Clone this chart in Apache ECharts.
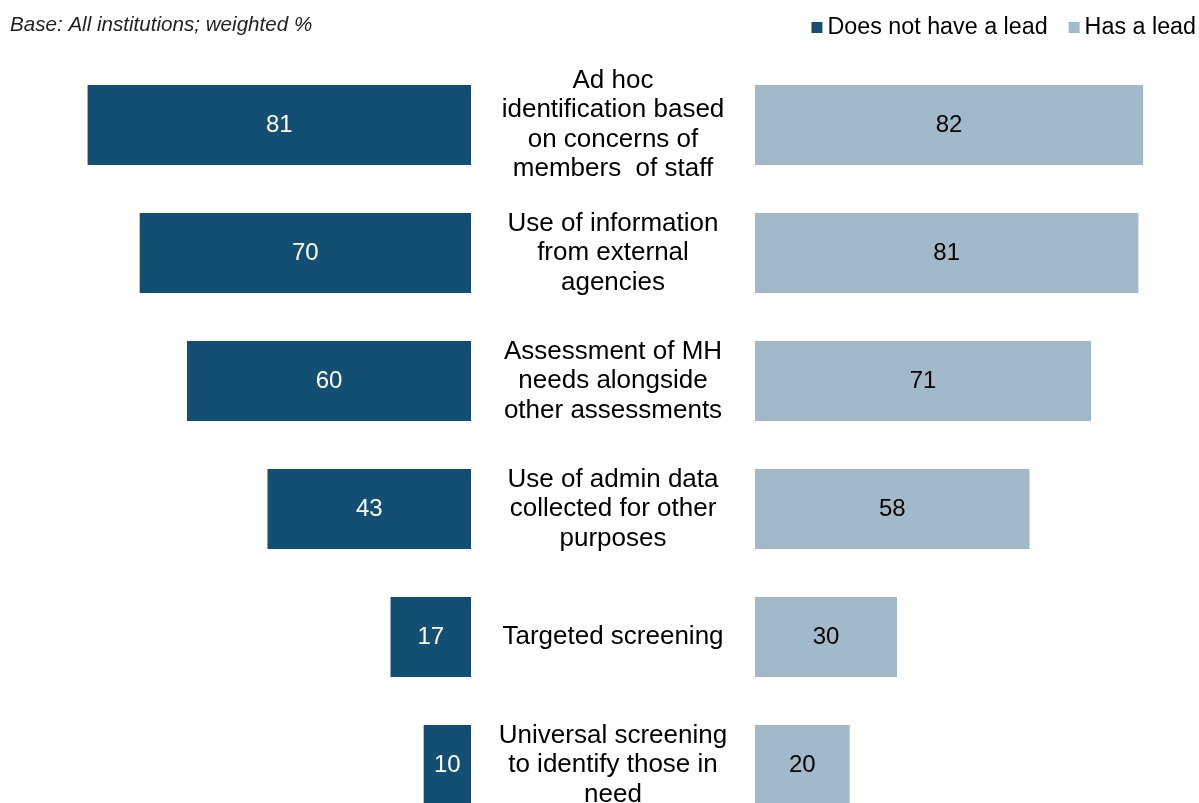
<!DOCTYPE html>
<html>
<head>
<meta charset="utf-8">
<title>MH identification by lead</title>
<script src="https://cdn.jsdelivr.net/npm/echarts@6/dist/echarts.min.js"></script>
<style>
	html, body { margin:0; padding:0; background:#fff; overflow:hidden; }
	#chart { width:1199px; height:840px; }
</style>
</head>
<body>
<div id="chart"></div>
<script>
//分类（中间的文字）
var categories = [
	"Ad hoc\nidentification based\non concerns of\nmembers  of staff",
	"Use of information\nfrom external\nagencies",
	"Assessment of MH\nneeds alongside\nother assessments",
	"Use of admin data\ncollected for other\npurposes",
	"Targeted screening",
	"Universal screening\nto identify those in\nneed"
];
//左边：没有负责人
var noLead = [81, 70, 60, 43, 17, 10];
//右边：有负责人
var hasLead = [82, 81, 71, 58, 30, 20];

var seriesNames = ["Does not have a lead", "Has a lead"];
var colorDark = "#124f73";
var colorLight = "#a2b9c9";
var fontName = "Liberation Sans, Arial, sans-serif";

function loadChart()
{
	// 画布比窗口高一点，最后一行被窗口底边裁掉
	var myChart = echarts.init(document.getElementById('chart'));

	var option = {
		backgroundColor: "#fff",
		animation: false,
		title: {
			text: "Base: All institutions; weighted %",
			left: 5,
			top: 10,
			textStyle: {
				fontFamily: fontName,
				fontSize: 20.6,
				fontStyle: "italic",
				fontWeight: "normal",
				color: "#222"
			}
		},
		legend: {
			right: 3,
			top: 16,
			padding: 0,
			itemWidth: 11,
			itemHeight: 11,
			itemGap: 21,
			icon: "rect",
			data: seriesNames,
			textStyle: {
				fontFamily: fontName,
				fontSize: 23.3,
				color: "#000"
			}
		},
		grid: [
			{ left: 45, width: 426, top: 61, height: 768 },
			{ left: 755, width: 426, top: 61, height: 768 }
		],
		xAxis: [
			{ gridIndex: 0, type: 'value', min: 0, max: 90, inverse: true, show: false },
			{ gridIndex: 1, type: 'value', min: 0, max: 90, show: false }
		],
		yAxis: [
			{
				gridIndex: 0,
				type: 'category',
				inverse: true,
				data: categories,
				axisLine: { show: false },
				axisTick: { show: false },
				axisLabel: { show: false }
			},
			{
				gridIndex: 1,
				type: 'category',
				inverse: true,
				data: categories,
				axisLine: { show: false },
				axisTick: { show: false },
				axisLabel: {
					margin: 142,
					align: 'center',
					fontFamily: fontName,
					fontSize: 26,
					lineHeight: 29.5,
					color: "#000"
				}
			}
		],
		series: [
			{
				name: seriesNames[0],
				type: 'bar',
				xAxisIndex: 0,
				yAxisIndex: 0,
				barWidth: 80,
				data: noLead,
				itemStyle: { color: colorDark },
				label: {
					show: true,
					position: 'inside',
					fontFamily: fontName,
					fontSize: 24,
					color: "#fff"
				}
			},
			{
				name: seriesNames[1],
				type: 'bar',
				xAxisIndex: 1,
				yAxisIndex: 1,
				barWidth: 80,
				data: hasLead,
				itemStyle: { color: colorLight },
				label: {
					show: true,
					position: 'inside',
					fontFamily: fontName,
					fontSize: 24,
					color: "#000"
				}
			}
		]
	};

	myChart.setOption(option);
}

loadChart();
</script>
</body>
</html>
